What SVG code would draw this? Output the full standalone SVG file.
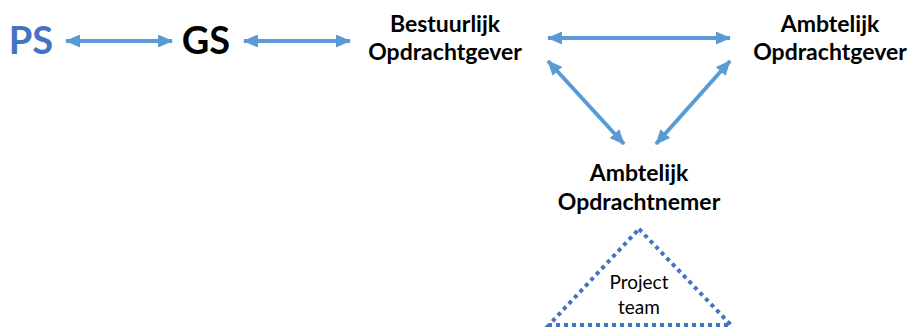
<svg xmlns="http://www.w3.org/2000/svg" width="910" height="329" viewBox="0 0 910 329">
<style>
.lbl{font-family:"Lato","Liberation Sans",sans-serif;font-weight:bold;font-size:23px;fill:#000;text-anchor:middle}
.big{font-family:"Lato","Liberation Sans",sans-serif;font-weight:bold;font-size:38px;text-anchor:middle}
.conn{stroke:#5B9BD5;stroke-width:4;fill:none;marker-start:url(#ah);marker-end:url(#ah)}
.pt{font-family:"Lato","Liberation Sans",sans-serif;font-size:19px;fill:#000;text-anchor:middle}
</style>
<defs>
<marker id="ah" viewBox="0 0 15 13" refX="14" refY="6.5" markerWidth="3.75" markerHeight="3.25" orient="auto-start-reverse" markerUnits="strokeWidth">
<path d="M0,0 L15,6.5 L0,13 z" fill="#5B9BD5"/>
</marker>
</defs>
<rect width="910" height="329" fill="#fff"/>
<g id="connectors">
<line class="conn" x1="66" y1="41" x2="172" y2="41"/>
<line class="conn" x1="244" y1="41" x2="350" y2="41"/>
<line class="conn" x1="548" y1="38" x2="730" y2="38"/>
<line class="conn" x1="548" y1="61" x2="624" y2="144"/>
<line class="conn" x1="730" y1="61" x2="656" y2="144"/>
</g>
<g id="ps"><text class="big" x="31" y="54" fill="#4472C4">PS</text></g>
<g id="gs"><text class="big" x="206" y="54" fill="#000">GS</text></g>
<g id="bestuurlijk"><text class="lbl" x="445" y="32">Bestuurlijk</text><text class="lbl" x="445" y="60">Opdrachtgever</text></g>
<g id="ambtelijk-og"><text class="lbl" x="830" y="32">Ambtelijk</text><text class="lbl" x="830" y="60">Opdrachtgever</text></g>
<g id="ambtelijk-on"><text class="lbl" x="639" y="181">Ambtelijk</text><text class="lbl" x="639" y="210">Opdrachtnemer</text></g>
<g id="projectteam">
<path d="M639,229 L731,325 L549,325 Z" fill="none" stroke="#4472C4" stroke-width="4" stroke-dasharray="4 4"/>
<text class="pt" x="639" y="289">Project</text><text class="pt" x="639" y="314">team</text>
</g>
</svg>
